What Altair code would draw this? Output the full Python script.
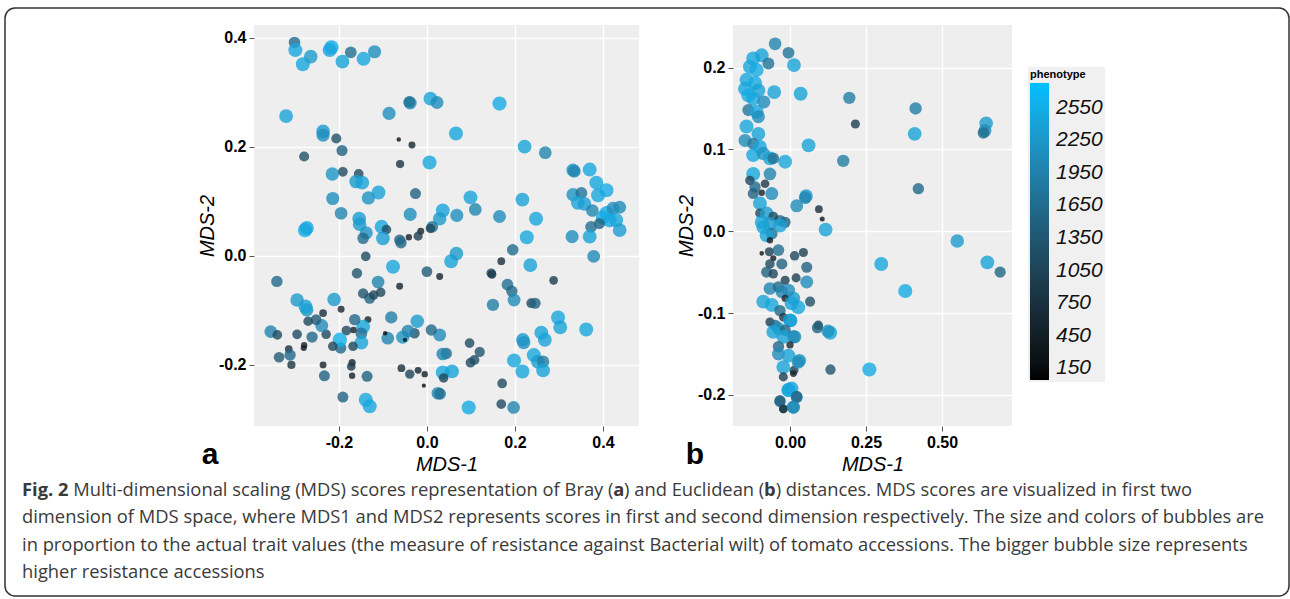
import altair as alt
import pandas as pd

# ---------------- Panel a : Bray distance MDS scores ----------------
a_x = [-0.301, -0.299, -0.282, -0.264, -0.217, -0.221, -0.173, -0.192, -0.144, -0.119,
       -0.320, -0.086, -0.038, -0.040, 0.008, 0.023, 0.165, -0.236, -0.236, -0.206,
       -0.193, -0.279, -0.064, -0.034, -0.061, 0.006, 0.066, 0.222, 0.269, 0.332,
       0.335, 0.370, 0.385, 0.408, 0.389, 0.332, 0.351, 0.343, 0.358, 0.376,
       0.408, 0.423, 0.438, 0.415, 0.430, 0.400, 0.438, 0.392, 0.373, 0.330,
       0.370, 0.248, 0.217, 0.165, 0.227, 0.099, 0.110, 0.068, 0.036, 0.029,
       0.012, 0.008, -0.014, -0.020, -0.041, -0.038, -0.026, -0.062, -0.110, -0.133,
       -0.215, -0.214, -0.195, -0.191, -0.155, -0.161, -0.147, -0.154, -0.153, -0.138,
       -0.103, -0.092, -0.277, -0.273, -0.145, -0.100, -0.059,
       0.379, 0.195, 0.235, -0.139, -0.077, 0.000, 0.029, 0.055, 0.067, 0.146,
       0.148, 0.169, 0.183, 0.193, 0.198, 0.237, 0.246, 0.288, 0.150, 0.298,
       0.303, 0.362, 0.260, 0.268, 0.218, 0.220, 0.198, 0.217, 0.243, 0.252,
       0.264, 0.264, 0.171, 0.169, 0.197, 0.095, 0.097, 0.120, 0.108, 0.099,
       0.044, 0.036, 0.036, 0.057, 0.038, 0.025, 0.030, -0.020, -0.005, -0.007,
       -0.039, -0.058, 0.029, 0.010, -0.022, -0.028, -0.055, -0.043, -0.050, -0.062,
       -0.081, -0.089, -0.095, -0.111, -0.105, -0.130, -0.121, -0.145, -0.159, -0.134,
       -0.145, -0.164, -0.149, -0.149, -0.168, -0.167, -0.183, -0.196, -0.198, -0.214,
       -0.195, -0.211, -0.236, -0.229, -0.239, -0.261, -0.252, -0.270, -0.273, -0.276,
       -0.295, -0.280, -0.279, -0.295, -0.314, -0.311, -0.336, -0.308, -0.341, -0.355,
       -0.340, -0.236, -0.233, -0.170, -0.172, -0.170, -0.136, -0.191, -0.139, -0.130]
a_y = [0.391, 0.377, 0.351, 0.365, 0.382, 0.377, 0.373, 0.356, 0.361, 0.374,
       0.256, 0.261, 0.280, 0.282, 0.288, 0.281, 0.279, 0.228, 0.221, 0.215,
       0.193, 0.182, 0.213, 0.203, 0.168, 0.171, 0.224, 0.200, 0.189, 0.157,
       0.155, 0.158, 0.134, 0.120, 0.111, 0.112, 0.115, 0.097, 0.095, 0.083,
       0.078, 0.087, 0.089, 0.065, 0.065, 0.070, 0.047, 0.059, 0.053, 0.035,
       0.035, 0.068, 0.103, 0.072, 0.034, 0.107, 0.085, 0.074, 0.083, 0.068,
       0.053, 0.050, 0.045, 0.036, 0.034, 0.076, 0.114, 0.029, 0.116, 0.106,
       0.150, 0.105, 0.078, 0.154, 0.150, 0.136, 0.134, 0.068, 0.058, 0.042,
       0.053, 0.048, 0.047, 0.051, 0.032, 0.032, 0.024,
       -0.001, 0.011, -0.017, -0.001, -0.020, -0.029, -0.038, -0.010, 0.004, -0.032,
       -0.034, -0.010, -0.053, -0.065, -0.081, -0.087, -0.087, -0.045, -0.090, -0.113,
       -0.131, -0.135, -0.141, -0.154, -0.154, -0.159, -0.192, -0.212, -0.182, -0.194,
       -0.194, -0.210, -0.234, -0.272, -0.278, -0.278, -0.160, -0.176, -0.191, -0.196,
       -0.179, -0.180, -0.214, -0.212, -0.224, -0.252, -0.253, -0.210, -0.217, -0.238,
       -0.217, -0.206, -0.145, -0.136, -0.120, -0.142, -0.149, -0.138, -0.154, -0.056,
       -0.113, -0.151, -0.142, -0.048, -0.067, -0.078, -0.072, -0.069, -0.032, -0.117,
       -0.130, -0.117, -0.142, -0.159, -0.166, -0.136, -0.137, -0.169, -0.154, -0.166,
       -0.098, -0.080, -0.105, -0.144, -0.128, -0.149, -0.117, -0.120, -0.099, -0.093,
       -0.081, -0.169, -0.164, -0.144, -0.171, -0.182, -0.186, -0.200, -0.047, -0.139,
       -0.145, -0.200, -0.220, -0.196, -0.203, -0.220, -0.221, -0.259, -0.264, -0.276]
a_pheno = [1650, 2450, 2450, 2300, 2550, 2450, 1700, 2400, 2450, 2150,
           2400, 2150, 2100, 1750, 2400, 2100, 2500, 2300, 2150, 1250,
           1500, 1250, 180, 550, 800, 2450, 2450, 2400, 2000, 2200,
           2000, 2450, 2450, 2500, 2450, 2200, 1750, 2400, 2350, 2000,
           2550, 2100, 2100, 2500, 2450, 2500, 2350, 1500, 1700, 2150,
           2400, 2450, 2400, 2100, 2450, 2400, 2000, 2150, 2400, 2300,
           1750, 1100, 550, 1000, 450, 2150, 1500, 1500, 2400, 2200,
           2250, 2150, 2000, 1150, 1150, 2300, 2400, 2350, 2300, 2200,
           2450, 1150, 2550, 2450, 1650, 2350, 1600,
           2050, 1650, 2400, 1150, 2450, 1400, 550, 2400, 2300, 1100,
           900, 700, 1700, 1600, 2100, 1150, 1500, 900, 1900, 2450,
           2400, 2450, 2400, 2400, 2300, 2200, 2450, 2450, 2450, 2350,
           1900, 2400, 1150, 1150, 2000, 2500, 1150, 1300, 1200, 1150,
           1600, 2000, 2450, 2400, 1100, 2000, 1700, 550, 450, 150,
           1050, 700, 2100, 1600, 2300, 1300, 2200, 2000, 150, 550,
           1900, 2000, 180, 2000, 1100, 1500, 1100, 1300, 1300, 550,
           2450, 1600, 1700, 2400, 1100, 500, 1150, 1600, 2600, 1100,
           550, 2300, 700, 1100, 2100, 1600, 1400, 1100, 2200, 2400,
           2300, 400, 450, 1150, 700, 1600, 1400, 800, 1600, 2000,
           1150, 550, 1500, 600, 900, 450, 1500, 1500, 2450, 2450]

# ---------------- Panel b : Euclidean distance MDS scores ----------------
b_x = [-0.049, -0.005, 0.013, 0.035, -0.052, 0.195, 0.215, 0.413, 0.410, 0.645,
       0.641, 0.636, 0.422, 0.061, 0.175, -0.016, 0.053, 0.050, 0.022, 0.095,
       0.106, 0.117, 0.550, 0.649, 0.691, 0.300, 0.379, 0.261, 0.133, 0.132,
       0.125, 0.093, 0.090, 0.066, 0.055, 0.055, 0.020, 0.044, 0.015, 0.027,
       0.011, 0.002, 0.011, 0.031, 0.013, -0.005, 0.005, 0.022, 0.011, -0.022,
       -0.033,
       -0.121, -0.093, -0.071, -0.132, -0.110, -0.143, -0.115, -0.148, -0.104, -0.137,
       -0.121, -0.086, -0.137, -0.110, -0.104, -0.143, -0.104, -0.148, -0.121, -0.099,
       -0.121, -0.088, -0.066, -0.055, -0.121, -0.066, -0.132, -0.115, -0.082, -0.093,
       -0.060, -0.121, -0.099, -0.099, -0.077, -0.033, -0.055, -0.093, -0.066, -0.016,
       -0.088, -0.060, -0.033, -0.077, -0.066, -0.093, -0.068, -0.038, -0.055, -0.066,
       -0.027, -0.077, -0.055, -0.016, -0.066, -0.038, -0.027, -0.005, -0.016, -0.088,
       -0.060, 0.005, -0.033, -0.022, 0.000, -0.066, -0.049, -0.038, -0.016, -0.055,
       -0.022, 0.016, -0.038, 0.000, -0.038, -0.005, 0.027, -0.022, 0.011, -0.022,
       -0.005, 0.022, -0.033, -0.022, 0.011]
b_y = [0.229, 0.218, 0.203, 0.168, 0.170, 0.163, 0.131, 0.150, 0.119, 0.132,
       0.123, 0.120, 0.052, 0.105, 0.086, 0.085, 0.043, 0.041, 0.031, 0.027,
       0.015, 0.002, -0.012, -0.038, -0.050, -0.040, -0.073, -0.169, -0.169, -0.124,
       -0.122, -0.115, -0.118, -0.086, -0.062, -0.044, -0.057, -0.026, -0.030, -0.093,
       -0.082, -0.109, -0.129, -0.158, -0.170, -0.194, -0.192, -0.203, -0.215, -0.217,
       -0.208,
       0.211, 0.215, 0.205, 0.201, 0.197, 0.185, 0.181, 0.174, 0.172, 0.166,
       0.162, 0.158, 0.148, 0.146, 0.140, 0.128, 0.119, 0.111, 0.107, 0.103,
       0.093, 0.095, 0.089, 0.089, 0.070, 0.070, 0.062, 0.054, 0.058, 0.047,
       0.046, 0.046, 0.034, 0.022, 0.022, 0.013, 0.018, 0.011, 0.009, 0.011,
       0.005, -0.003, 0.007, -0.005, -0.011, -0.027, -0.025, -0.023, -0.033, -0.040,
       -0.040, -0.050, -0.052, -0.060, -0.070, -0.068, -0.074, -0.072, -0.082, -0.086,
       -0.090, -0.088, -0.097, -0.105, -0.109, -0.111, -0.115, -0.119, -0.121, -0.123,
       -0.129, -0.129, -0.141, -0.139, -0.150, -0.152, -0.160, -0.166, -0.174, -0.178,
       -0.194, -0.202, -0.207, -0.217, -0.215]
b_pheno = [2000, 1750, 2400, 2400, 2400, 1900, 1000, 1900, 2400, 2300,
           2100, 1650, 1600, 2400, 1900, 2450, 2250, 2000, 2100, 700,
           250, 2400, 2300, 2400, 1550, 2450, 2500, 2500, 1300, 2450,
           2200, 1100, 1500, 1250, 2100, 1500, 1000, 1000, 1100, 2450,
           2300, 2300, 2100, 2200, 1000, 2500, 2400, 1800, 2000, 900,
           1600,
           2450, 2400, 1750, 2450, 2500, 2450, 2500, 2450, 2400, 2500,
           2450, 2100, 1800, 2450, 2100, 2450, 2400, 2100, 1800, 2450,
           2450, 2200, 2400, 1700, 2450, 2000, 1100, 1600, 900, 450,
           2100, 1500, 2400, 1100, 2300, 1600, 1150, 2400, 2300, 1500,
           2400, 1700, 2400, 2400, 450, 200, 1000, 1700, 400, 1100,
           1500, 1500, 1100, 1000, 2000, 1600, 2000, 2100, 600, 2400,
           2450, 2400, 1600, 900, 2400, 1000, 1600, 2100, 1600, 2400,
           2400, 2100, 1600, 600, 2100, 2400, 2100, 2400, 550, 1000,
           2450, 1600, 1500, 900, 2100]

# ---------------- axis ticks, scales, legend values ----------------
a_x_ticks = [-0.2, 0.0, 0.2, 0.4]
a_y_ticks = [-0.2, 0.0, 0.2, 0.4]
a_x_domain = [-0.393, 0.482]
a_y_domain = [-0.312, 0.423]
b_x_ticks = [0.0, 0.25, 0.5]
b_y_ticks = [-0.2, -0.1, 0.0, 0.1, 0.2]
b_x_domain = [-0.1875, 0.730]
b_y_domain = [-0.238, 0.252]
legend_ticks = [150, 450, 750, 1050, 1350, 1650, 1950, 2250, 2550]
pheno_domain = [40, 2780]
size_domain = [30, 2790]
color_range = ["#000000", "#00bfff"]

caption_line1 = [("Fig. 2", "bold"),
                 (" Multi-dimensional scaling (MDS) scores representation of Bray (", "normal"),
                 ("a", "bold"),
                 (") and Euclidean (", "normal"),
                 ("b", "bold"),
                 (") distances. MDS scores are visualized in first two", "normal")]
caption_rest = ["dimension of MDS space, where MDS1 and MDS2 represents scores in first and second dimension respectively. The size and colors of bubbles are",
                "in proportion to the actual trait values (the measure of resistance against Bacterial wilt) of tomato accessions. The bigger bubble size represents",
                "higher resistance accessions"]

# ---------------- layout constants (pixels) ----------------
A_W, A_H = 385, 401
B_W, B_H = 279, 401
GAP = 94
OX, OY = 254, 25          # page position of panel a's plot origin
CAP_FONT = "Open Sans"
CAP_SIZE = 18.35
CAP_COLOR = "#3a3a3a"
CAP_X = 22
line_y = [490, 517, 545, 572]

# approximate Open Sans advance widths (units per 2048 em), used only to
# place the bold letters of the first caption line next to the plain text
_REG = {' ': 532, '(': 596, ')': 596, '-': 659, '.': 545, ',': 500,
        'A': 1296, 'B': 1327, 'C': 1292, 'D': 1493, 'E': 1139, 'F': 1057, 'M': 1849,
        'S': 1098, 'T': 1104, 'W': 1901, 'I': 606,
        'a': 1139, 'b': 1255, 'c': 975, 'd': 1255, 'e': 1149, 'f': 694, 'g': 1122,
        'h': 1257, 'i': 518, 'j': 518, 'k': 1075, 'l': 518, 'm': 1905, 'n': 1257,
        'o': 1237, 'p': 1255, 'q': 1255, 'r': 836, 's': 977, 't': 723, 'u': 1257,
        'v': 1026, 'w': 1593, 'x': 1073, 'y': 1026, 'z': 954}
_BOLD = {'F': 1145, 'i': 590, 'g': 1147, '.': 598, ' ': 532, '2': 1171,
         'a': 1208, 'b': 1290}


def _w(s, bold):
    tab = _BOLD if bold else _REG
    return sum(tab.get(c, _REG.get(c, 1171)) for c in s) / 2048.0


# calibration: rendered width of the second caption line at 17 px was ~1150 px
_k = (1150.0 * CAP_SIZE / 17.0) / (_w(caption_rest[0], False) * CAP_SIZE)
line1_segments = []
_cur = CAP_X
for seg, wt in caption_line1:
    bold = wt == "bold"
    lead = len(seg) - len(seg.lstrip(" "))
    _cur += _w(" " * lead, bold) * CAP_SIZE * _k      # SVG drops leading blanks
    body = seg.strip(" ")
    line1_segments.append((body, wt, _cur))
    _cur += _w(body, bold) * CAP_SIZE * _k
    trail = len(seg) - len(seg.rstrip(" "))
    _cur += _w(" " * trail, bold) * CAP_SIZE * _k

df_a = pd.DataFrame({"x": a_x, "y": a_y, "phenotype": a_pheno})
df_b = pd.DataFrame({"x": b_x, "y": b_y, "phenotype": b_pheno})

size_scale = alt.Scale(domain=size_domain, range=[8, 222])
color_scale = alt.Scale(domain=pheno_domain, range=color_range, interpolate="lab")


def signed(fmt):
    return f"(datum.value < 0 ? '-' : '') + format(abs(datum.value), '{fmt}')"


points_a = alt.Chart(df_a).transform_calculate(bubble="datum.phenotype").mark_circle(fillOpacity=0.8).encode(
    x=alt.X("x:Q", scale=alt.Scale(domain=a_x_domain, nice=False, zero=False),
            axis=alt.Axis(values=a_x_ticks, labelExpr=signed(".1f"), title="MDS-1")),
    y=alt.Y("y:Q", scale=alt.Scale(domain=a_y_domain, nice=False, zero=False),
            axis=alt.Axis(values=a_y_ticks, labelExpr=signed(".1f"), title="MDS-2")),
    color=alt.Color("phenotype:Q", scale=color_scale, legend=None),
    size=alt.Size("bubble:Q", scale=size_scale, legend=None),
)

points_b = alt.Chart(df_b).transform_calculate(bubble="datum.phenotype").mark_circle(fillOpacity=0.8).encode(
    x=alt.X("x:Q", scale=alt.Scale(domain=b_x_domain, nice=False, zero=False),
            axis=alt.Axis(values=b_x_ticks, labelExpr=signed(".2f"), title="MDS-1")),
    y=alt.Y("y:Q", scale=alt.Scale(domain=b_y_domain, nice=False, zero=False),
            axis=alt.Axis(values=b_y_ticks, labelExpr=signed(".1f"), title="MDS-2")),
    color=alt.Color("phenotype:Q", scale=color_scale,
                    legend=alt.Legend(title="phenotype", type="gradient", orient="none",
                                      legendX=1028 - (OX + A_W + GAP), legendY=67 - OY,
                                      values=legend_ticks, format="d", direction="vertical",
                                      gradientLength=297, gradientThickness=19,
                                      gradientStrokeWidth=0,
                                      fillColor="#f0f0f0", padding=2,
                                      titleFont="Liberation Sans", titleFontSize=11,
                                      titleFontWeight="bold", titleColor="black",
                                      titlePadding=3,
                                      labelFont="Liberation Sans", labelFontSize=21,
                                      labelFontStyle="italic", labelColor="#111111",
                                      labelOffset=7, labelOverlap=False)),
    size=alt.Size("bubble:Q", scale=size_scale, legend=None),
)


def text_layer(txt, px, py, **kw):
    return alt.Chart(pd.DataFrame({"t": [txt]})).mark_text(**kw).encode(
        text="t:N", x=alt.value(px), y=alt.value(py))


label_a = text_layer("a", 210 - OX, 455 - OY, font="Liberation Sans", fontSize=30,
                     fontWeight="bold", color="black", align="center", baseline="middle")
label_b = text_layer("b", 695 - (OX + A_W + GAP), 455 - OY, font="Liberation Sans",
                     fontSize=30, fontWeight="bold", color="black", align="center",
                     baseline="middle")

caption_layers = []
for body, wt, px in line1_segments:
    caption_layers.append(text_layer(body, px - OX, line_y[0] - OY, font=CAP_FONT,
                                     fontSize=CAP_SIZE, fontWeight=wt, color=CAP_COLOR,
                                     align="left", baseline="middle"))
for line, py in zip(caption_rest, line_y[1:]):
    caption_layers.append(text_layer(line, CAP_X - OX, py - OY, font=CAP_FONT,
                                     fontSize=CAP_SIZE, color=CAP_COLOR,
                                     align="left", baseline="middle"))

frame = alt.Chart(pd.DataFrame({"k": [0]})).mark_rect(
    fill="transparent", stroke="#333333", strokeWidth=1.5, cornerRadius=10
).encode(x=alt.value(5 - OX), x2=alt.value(1289 - OX),
         y=alt.value(8 - OY), y2=alt.value(596 - OY))

panel_a = alt.layer(points_a, label_a, *caption_layers, frame).properties(width=A_W, height=A_H)
panel_b = alt.layer(points_b, label_b).properties(width=B_W, height=B_H)

chart = alt.hconcat(panel_a, panel_b, spacing=GAP, bounds="flush").resolve_scale(
    color="independent", size="independent", x="independent", y="independent"
).properties(
    padding={"left": 4, "top": 7, "right": 0, "bottom": 0},
    background="white",
).configure_view(
    fill="#eeeeee", stroke=None
).configure_axis(
    grid=True, gridColor="white", gridWidth=1.5, domain=False,
    tickColor="#555555", tickSize=5, tickWidth=1,
    labelFont="Liberation Sans", labelFontWeight="bold", labelFontSize=16,
    labelColor="black", labelPadding=3, labelFlush=False,
    titleFont="Liberation Sans", titleFontStyle="italic", titleFontWeight="normal",
    titleFontSize=20, titleColor="black",
).configure_axisX(titlePadding=4).configure_axisY(titlePadding=1)

chart.save("out.html", embed_options={"renderer": "svg", "actions": False})
